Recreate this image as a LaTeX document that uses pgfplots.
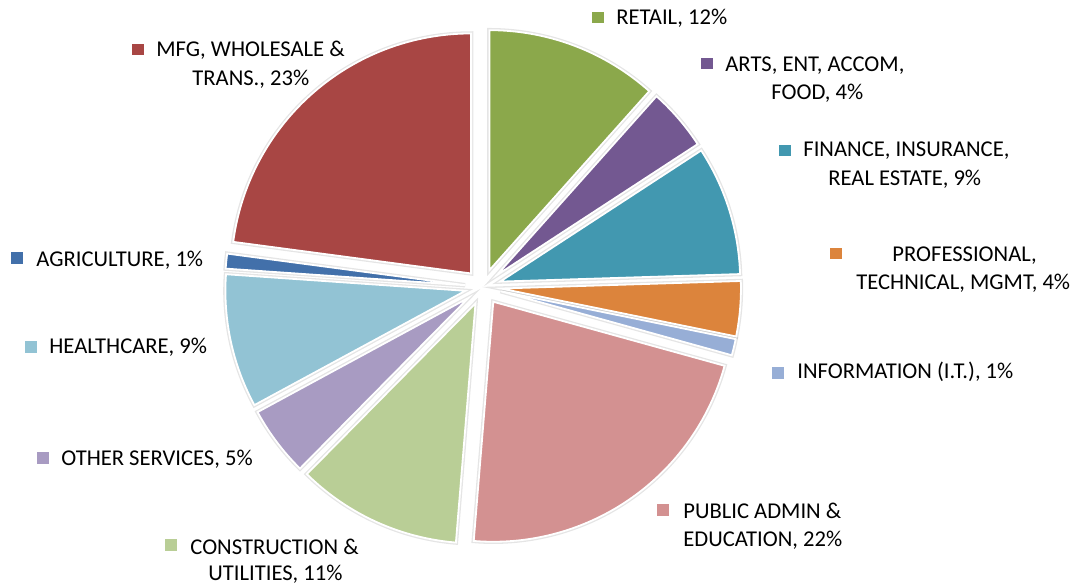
\documentclass[border=0pt]{standalone}
\usepackage{pgfplots}
\pgfplotsset{compat=1.18}
\usepackage{fontspec}
\setmainfont{Carlito}

\definecolor{cRetail}{HTML}{8BA84B}
\definecolor{cArts}{HTML}{735891}
\definecolor{cFin}{HTML}{4298B0}
\definecolor{cProf}{HTML}{DC843C}
\definecolor{cInfo}{HTML}{97AED6}
\definecolor{cPub}{HTML}{D39191}
\definecolor{cCons}{HTML}{B9CE96}
\definecolor{cOther}{HTML}{A89BC2}
\definecolor{cHealth}{HTML}{92C3D4}
\definecolor{cAgri}{HTML}{4270AA}
\definecolor{cMfg}{HTML}{A84644}

% pie geometry (pixel units of the axis)
\def\cx{483}
\def\cy{287}
\def\R{240}
\def\ex{18}

\def\cum{0}
\newcommand{\pieslice}[2]{% #1 value (percent), #2 style
  \pgfmathsetmacro{\aS}{90-3.6*\cum}%
  \pgfmathsetmacro{\aE}{90-3.6*(\cum+#1)}%
  \pgfmathsetmacro{\aM}{(\aS+\aE)/2}%
  \pgfmathsetmacro{\ox}{\cx+\ex*cos(\aM)}%
  \pgfmathsetmacro{\oy}{\cy-\ex*sin(\aM)}%
  \edef\temp{\noexpand\addplot[#2, domain=\aE:\aS, samples=80] ({\ox+\R*cos(x)},{\oy-\R*sin(x)}) -- (axis cs:\ox,\oy) -- cycle;}%
  \temp
  \pgfmathsetmacro{\newcum}{\cum+#1}%
  \xdef\cum{\newcum}%
}

\begin{document}
\begin{tikzpicture}
\begin{axis}[
  scale only axis, width=540.5pt, height=294pt,
  xmin=0, xmax=1081, ymin=0, ymax=588, y dir=reverse,
  hide axis, clip=false,
]
\path (axis cs:0,0) rectangle (axis cs:1081,588);

% shadows
\gdef\cum{0}
\pieslice{11.6}{draw=black, line width=2.2pt, opacity=0.10, fill=black, fill opacity=0.10}
\pieslice{4.2}{draw=black, line width=2.2pt, opacity=0.10, fill=black, fill opacity=0.10}
\pieslice{8.7}{draw=black, line width=2.2pt, opacity=0.10, fill=black, fill opacity=0.10}
\pieslice{3.7}{draw=black, line width=2.2pt, opacity=0.10, fill=black, fill opacity=0.10}
\pieslice{1.1}{draw=black, line width=2.2pt, opacity=0.10, fill=black, fill opacity=0.10}
\pieslice{22.0}{draw=black, line width=2.2pt, opacity=0.10, fill=black, fill opacity=0.10}
\pieslice{11.1}{draw=black, line width=2.2pt, opacity=0.10, fill=black, fill opacity=0.10}
\pieslice{4.7}{draw=black, line width=2.2pt, opacity=0.10, fill=black, fill opacity=0.10}
\pieslice{9.0}{draw=black, line width=2.2pt, opacity=0.10, fill=black, fill opacity=0.10}
\pieslice{1.0}{draw=black, line width=2.2pt, opacity=0.10, fill=black, fill opacity=0.10}
\pieslice{22.9}{draw=black, line width=2.2pt, opacity=0.10, fill=black, fill opacity=0.10}

% slices: Retail, Arts, Finance, Professional, Information, Public admin,
% Construction, Other services, Healthcare, Agriculture, MFG
\gdef\cum{0}
\pieslice{11.6}{fill=cRetail, draw=white, line width=0.9pt}
\pieslice{4.2}{fill=cArts, draw=white, line width=0.9pt}
\pieslice{8.7}{fill=cFin, draw=white, line width=0.9pt}
\pieslice{3.7}{fill=cProf, draw=white, line width=0.9pt}
\pieslice{1.1}{fill=cInfo, draw=white, line width=0.9pt}
\pieslice{22.0}{fill=cPub, draw=white, line width=0.9pt}
\pieslice{11.1}{fill=cCons, draw=white, line width=0.9pt}
\pieslice{4.7}{fill=cOther, draw=white, line width=0.9pt}
\pieslice{9.0}{fill=cHealth, draw=white, line width=0.9pt}
\pieslice{1.0}{fill=cAgri, draw=white, line width=0.9pt}
\pieslice{22.9}{fill=cMfg, draw=white, line width=0.9pt}

% legend-style label markers
\addplot[only marks, mark=square*, mark size=2.7pt, color=cRetail] coordinates {(597.5,17.5)};
\addplot[only marks, mark=square*, mark size=2.7pt, color=cArts] coordinates {(706.5,63.5)};
\addplot[only marks, mark=square*, mark size=2.7pt, color=cFin] coordinates {(784.5,150.5)};
\addplot[only marks, mark=square*, mark size=2.7pt, color=cProf] coordinates {(836,253.5)};
\addplot[only marks, mark=square*, mark size=2.7pt, color=cInfo] coordinates {(777.5,373)};
\addplot[only marks, mark=square*, mark size=2.7pt, color=cPub] coordinates {(663,509.5)};
\addplot[only marks, mark=square*, mark size=2.7pt, color=cCons] coordinates {(170.5,544.5)};
\addplot[only marks, mark=square*, mark size=2.7pt, color=cOther] coordinates {(42.5,458)};
\addplot[only marks, mark=square*, mark size=2.7pt, color=cHealth] coordinates {(30.5,347)};
\addplot[only marks, mark=square*, mark size=2.7pt, color=cAgri] coordinates {(17,258)};
\addplot[only marks, mark=square*, mark size=2.7pt, color=cMfg] coordinates {(137.5,49.5)};

\begin{scope}[every node/.style={anchor=base west, inner sep=0pt, font=\fontsize{11.3}{13}\selectfont, text=black}]
\node at (axis cs:616,25) {RETAIL, 12\%};
\node at (axis cs:725,72) {ARTS, ENT, ACCOM,};
\node at (axis cs:771,100) {FOOD, 4\%};
\node at (axis cs:803,157) {FINANCE, INSURANCE,};
\node at (axis cs:828,186) {REAL ESTATE, 9\%};
\node at (axis cs:892,262) {PROFESSIONAL,};
\node at (axis cs:856,290) {TECHNICAL, MGMT, 4\%};
\node at (axis cs:797,378) {INFORMATION (I.T.), 1\%};
\node at (axis cs:683,518) {PUBLIC ADMIN \&};
\node at (axis cs:683,546) {EDUCATION, 22\%};
\node at (axis cs:190,554) {CONSTRUCTION \&};
\node at (axis cs:208,580) {UTILITIES, 11\%};
\node at (axis cs:61,465) {OTHER SERVICES, 5\%};
\node at (axis cs:49,353) {HEALTHCARE, 9\%};
\node at (axis cs:36,266) {AGRICULTURE, 1\%};
\node at (axis cs:156,57) {MFG, WHOLESALE \&};
\node at (axis cs:192,86) {TRANS., 23\%};
\end{scope}
\end{axis}
\end{tikzpicture}
\end{document}
